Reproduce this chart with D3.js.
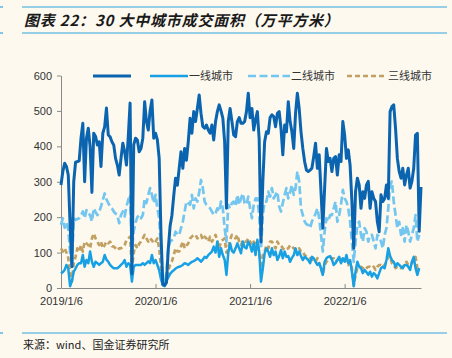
<!DOCTYPE html>
<html><head><meta charset="utf-8">
<script src="https://cdn.jsdelivr.net/npm/d3@7"></script>
<style>html,body{margin:0;padding:0;background:#fdf9ef;} svg{display:block}</style>
</head><body><svg id="c" width="452" height="358"></svg>
<script>
// weekly data, index 0 = 2019/1/6
const totalCities = [291,329,352,343,319,178,60,300,355,357,359,423,465,300,423,451,400,270,437,428,404,413,343,437,455,508,432,427,413,404,366,347,319,366,409,385,347,427,522,40,404,423,418,385,394,423,526,470,446,500,531,423,437,418,366,150,10,8,15,110,175,205,260,310,290,338,385,338,394,361,413,479,437,498,470,507,545,493,456,451,460,446,437,460,418,470,498,517,500,480,413,225,470,507,470,432,427,470,481,465,465,470,498,550,481,507,446,475,498,420,130,300,413,441,437,481,489,484,455,493,498,451,376,460,441,526,470,441,394,493,550,507,441,394,357,333,329,333,338,371,409,338,376,272,169,282,394,357,366,329,366,371,319,376,357,470,432,366,390,347,244,112,272,310,291,225,272,253,291,301,225,272,253,244,187,159,263,244,253,291,253,498,512,517,451,366,329,310,338,291,319,338,282,301,338,432,437,160,285];
const tier1 = [41,45,51,65,55,5,20,46,55,65,70,70,93,60,79,70,103,74,60,74,70,65,70,74,93,80,74,65,60,56,56,56,60,65,70,79,60,70,65,18,60,65,65,65,65,70,65,70,75,70,93,70,79,65,50,25,8,5,20,30,40,46,50,55,58,60,62,65,70,68,65,70,74,76,79,84,80,74,80,88,85,93,98,103,117,100,131,88,112,93,80,37,100,126,105,100,112,126,112,98,131,115,112,131,120,103,126,93,136,103,18,55,98,112,103,88,112,93,103,79,90,107,84,103,88,90,74,85,93,112,93,103,90,79,88,84,79,70,88,84,74,65,70,55,37,74,84,88,90,80,65,70,79,88,70,84,74,93,70,79,46,5,46,74,60,56,42,51,45,37,46,32,42,37,27,42,56,60,56,79,112,90,79,74,60,70,65,60,56,65,65,60,51,74,88,56,37,56];
const tier2 = [178,197,170,185,165,100,60,197,192,195,197,205,216,197,220,210,206,188,225,215,206,215,230,249,267,250,240,230,225,216,210,206,183,206,216,202,230,249,263,110,160,185,200,206,197,206,253,240,263,282,263,240,263,225,197,110,30,8,45,112,131,135,140,159,150,150,169,187,216,244,240,235,263,225,253,244,270,305,282,244,235,230,225,216,206,212,225,216,244,225,169,131,235,225,240,244,230,263,235,253,267,240,235,258,225,197,235,253,253,206,110,206,244,244,272,258,282,253,263,272,230,216,240,263,282,253,270,291,263,282,329,301,225,206,188,180,178,169,188,197,210,225,197,150,103,160,197,188,206,206,225,244,187,206,235,277,253,244,225,187,131,74,131,178,187,150,131,169,159,131,150,150,131,112,150,145,131,112,150,169,225,291,301,244,206,169,187,150,169,131,178,159,131,150,169,206,131,150];
const tier3 = [112,103,112,100,85,40,18,70,88,112,103,121,103,131,126,121,112,140,154,140,131,121,131,112,121,131,126,131,118,117,112,107,112,112,117,121,135,140,145,56,100,121,112,125,131,140,150,140,131,140,135,126,131,140,112,60,10,3,20,50,65,75,93,112,103,103,117,131,112,120,126,140,145,150,150,140,145,150,136,145,140,131,145,131,140,150,131,112,131,136,140,100,112,136,150,145,140,150,131,121,135,131,131,140,131,121,131,126,126,100,56,93,103,121,112,131,131,121,112,131,121,121,112,107,110,112,121,117,112,107,107,112,103,103,93,88,88,84,79,79,74,84,70,56,37,65,74,79,84,84,84,74,79,84,74,88,79,74,65,74,56,8,37,56,60,60,56,51,56,60,60,56,60,51,60,65,65,60,65,74,88,90,70,65,56,60,60,56,60,65,74,65,70,70,79,88,56,65];
const tickIdx = [0,52,104,156];
const tickLabels = ["2019/1/6","2020/1/6","2021/1/6","2022/1/6"];
const yTicks = [0,100,200,300,400,500,600];
const seriesNames = ["","一线城市","二线城市","三线城市"];

const svg = d3.select("#c");
const font = "'Liberation Sans', Arial, 'Noto Sans CJK SC', sans-serif";
const accent = "#2fa3dc";

[7,33,333].forEach(yy=>{
  svg.append("line").attr("x1",22).attr("x2",447).attr("y1",yy).attr("y2",yy)
    .attr("stroke",accent).attr("stroke-width",1.2);
  svg.append("line").attr("x1",0).attr("x2",3).attr("y1",yy).attr("y2",yy)
    .attr("stroke",accent).attr("stroke-width",1.2);
});

svg.append("text").attr("x",24).attr("y",25.5)
  .attr("font-family","'Noto Sans CJK SC', sans-serif")
  .attr("font-size",15).attr("font-weight","bold").attr("font-style","italic")
  .attr("letter-spacing",0.8)
  .attr("fill","#1a1a1a")
  .text("图表 22：30 大中城市成交面积（万平方米）");

svg.append("text").attr("x",23).attr("y",349)
  .attr("font-family","'Noto Sans CJK SC', sans-serif")
  .attr("font-size",11).attr("fill","#222")
  .text("来源：wind、国金证券研究所");

const x = d3.scaleLinear().domain([0, totalCities.length-1]).range([61, 421]);
const y = d3.scaleLinear().domain([0, 600]).range([288, 75.5]);

const yAxis = svg.append("g").attr("transform","translate(61,0)")
  .call(d3.axisLeft(y).tickValues(yTicks).tickSize(4).tickSizeOuter(0).tickPadding(5));
const xAxis = svg.append("g").attr("transform","translate(0,288)")
  .call(d3.axisBottom(x).tickValues(tickIdx).tickFormat((d,i)=>tickLabels[i]).tickSize(-4).tickSizeOuter(0).tickPadding(9));
[yAxis,xAxis].forEach(g=>{
  g.selectAll("path,line").attr("stroke","#8a8a8a").attr("stroke-width",1);
  g.selectAll("text").attr("fill","#333").attr("font-size",11).attr("font-family",font);
});

const line = d3.line().x((d,i)=>x(i)).y(d=>y(d));
const styles = [
  {data: totalCities, color:"#0a64b0", w:3, dash:null},
  {data: tier1, color:"#18a0e4", w:2.5, dash:null},
  {data: tier2, color:"#73c6f0", w:2.7, dash:"8,3.5"},
  {data: tier3, color:"#c1a062", w:2.7, dash:"5,3"}
];
[3,2,1,0].forEach(k=>{
  const s = styles[k];
  svg.append("path").datum(s.data).attr("d",line)
    .attr("fill","none").attr("stroke",s.color).attr("stroke-width",s.w)
    .attr("stroke-linejoin","round")
    .attr("stroke-dasharray",s.dash);
});

const legendPos = [93,150,248,347];
const legendLen = [38,38,42,40];
styles.forEach((s,i)=>{
  svg.append("line").attr("x1",legendPos[i]).attr("x2",legendPos[i]+legendLen[i])
    .attr("y1",76).attr("y2",76).attr("stroke",s.color).attr("stroke-width",s.w)
    .attr("stroke-dasharray",s.dash);
  if (seriesNames[i]) {
    svg.append("text").attr("x",legendPos[i]+legendLen[i]+1).attr("y",80)
      .attr("font-family","'Noto Sans CJK SC', sans-serif").attr("font-size",11)
      .attr("fill","#333").text(seriesNames[i]);
  }
});
</script></body></html>
